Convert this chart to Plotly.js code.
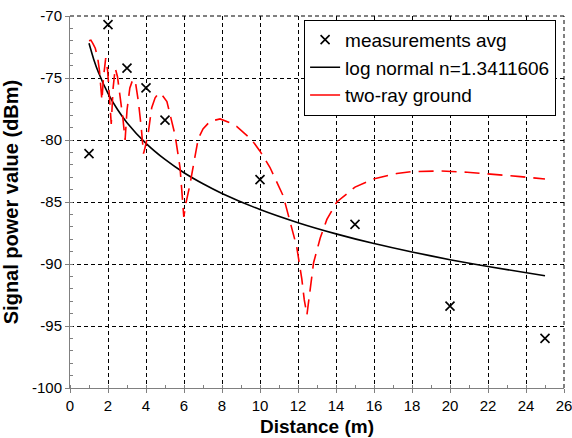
<!DOCTYPE html>
<html>
<head>
<meta charset="utf-8">
<script src="https://cdn.plot.ly/plotly-3.0.1.min.js"></script>
<style>html,body{margin:0;padding:0;background:#fff;}#chart{width:572px;height:438px;}</style>
</head>
<body>
<div id="chart"></div>
<script>
// Measured averages
const measDistance = [1, 2, 3, 4, 5, 10, 15, 20, 25];
const measPower = [-81.1, -70.7, -74.2, -75.8, -78.4, -83.2, -86.8, -93.4, -96.0];

// Log-normal fit
const logDistance = [1, 1.25, 1.5, 2, 2.5, 3, 4, 5, 6, 7, 8, 10, 12, 14, 16, 18, 20, 22, 25];
const logPower = [-72.2, -73.5, -74.56, -76.24, -77.54, -78.6, -80.27, -81.57, -82.64, -83.53, -84.31, -85.61, -86.67, -87.57, -88.35, -89.03, -89.65, -90.2, -90.95];

// Two-ray ground model
const twoRayDistance = [1.0, 1.1, 1.2, 1.33, 1.45, 1.55, 1.68, 1.76, 1.88, 1.98, 2.08, 2.17, 2.27, 2.38, 2.5, 2.65, 2.78, 2.9, 3.0, 3.15, 3.31, 3.46, 3.6, 3.75, 3.87, 4.0, 4.13, 4.3, 4.48, 4.67, 4.86, 5.1, 5.35, 5.53, 5.79, 5.91, 5.99, 6.1, 6.3, 6.5, 6.75, 7.0, 7.37, 7.9, 8.4, 8.77, 9.57, 10.0, 10.52, 11.22, 11.58, 11.93, 12.2, 12.33, 12.47, 12.64, 12.82, 13.17, 13.52, 14.04, 14.57, 15.0, 15.97, 17.2, 18.0, 19.5, 20.9, 22.3, 23.7, 25.0];
const twoRayPower = [-72.0, -71.95, -72.2, -72.6, -73.3, -74.4, -76.8, -75.0, -73.4, -74.4, -76.6, -78.7, -75.8, -74.2, -74.9, -76.5, -78.2, -80.0, -77.6, -75.8, -75.1, -75.5, -76.9, -79.0, -81.1, -80.3, -79.3, -77.4, -76.6, -76.2, -76.4, -76.9, -78.4, -79.6, -82.2, -84.7, -86.2, -85.1, -83.7, -82.0, -79.9, -79.1, -78.5, -78.3, -78.6, -78.9, -80.0, -80.9, -82.2, -84.5, -86.5, -88.6, -91.2, -92.9, -94.1, -92.0, -89.9, -87.9, -86.4, -85.0, -84.3, -83.8, -83.15, -82.7, -82.55, -82.5, -82.6, -82.75, -82.95, -83.15];

const xTicks = [0, 2, 4, 6, 8, 10, 12, 14, 16, 18, 20, 22, 24, 26];
const yTicks = [-100, -95, -90, -85, -80, -75, -70];

const FONT = 'Liberation Sans, Arial, sans-serif';

const traces = [
  {
    x: measDistance, y: measPower, mode: 'markers', name: 'measurements avg',
    marker: {symbol: 'x-thin-open', size: 9, color: '#000', line: {color: '#000', width: 1.6}},
    legendgroup: 'a'
  },
  {
    x: logDistance, y: logPower, mode: 'lines', name: 'log normal n=1.3411606',
    line: {color: '#000', width: 1.6, shape: 'spline', smoothing: 0.6},
    legendgroup: 'b'
  },
  {
    x: twoRayDistance, y: twoRayPower, mode: 'lines', name: 'two-ray ground',
    line: {color: '#ff0000', width: 1.6, dash: '15px,8px'},
    showlegend: false, legendgroup: 'c'
  },
  {
    x: [null], y: [null], mode: 'lines', name: 'two-ray ground',
    line: {color: '#ff0000', width: 1.6}, legendgroup: 'c'
  }
];

const layout = {
  width: 572, height: 438,
  margin: {l: 70, r: 8, t: 16, b: 50},
  paper_bgcolor: '#fff', plot_bgcolor: '#fff',
  font: {family: FONT, color: '#000', size: 15},
  showlegend: true,
  legend: {
    x: 0.984, y: 0.99, xanchor: 'right', yanchor: 'top',
    bgcolor: '#fff', bordercolor: '#000', borderwidth: 1,
    font: {family: FONT, size: 19, color: '#000'},
    traceorder: 'grouped', tracegroupgap: 0
  },
  shapes: [
    {type: 'line', xref: 'paper', yref: 'paper', x0: 0, x1: 1, y0: 1, y1: 1,
     line: {color: '#000', width: 1, dash: '4px,3px'}, layer: 'below'},
    {type: 'line', xref: 'paper', yref: 'paper', x0: 1, x1: 1, y0: 0, y1: 1,
     line: {color: '#000', width: 1, dash: '4px,3px'}, layer: 'below'}
  ],
  xaxis: {
    range: [0, 26], tickvals: xTicks, ticktext: xTicks.map(String),
    showline: true, linecolor: '#808080', linewidth: 1,
    ticks: 'outside', ticklen: 4, tickcolor: '#808080',
    ticklabeloverflow: 'allow',
    minor: {dtick: 1, ticks: 'inside', ticklen: 3, tickcolor: '#808080', showgrid: false},
    showgrid: true, gridcolor: '#000', gridwidth: 1, griddash: '4px,3px',
    zeroline: false,
    tickfont: {family: FONT, size: 15, color: '#000'},
    title: {text: 'Distance (m)', font: {family: FONT, size: 19, color: '#000', weight: 'bold'}, standoff: 6}
  },
  yaxis: {
    range: [-100, -70], tickvals: yTicks, ticktext: yTicks.map(String),
    showline: true, linecolor: '#808080', linewidth: 1,
    ticks: 'outside', ticklen: 4, tickcolor: '#808080',
    ticklabeloverflow: 'allow',
    minor: {dtick: 1, ticks: 'inside', ticklen: 3, tickcolor: '#808080', showgrid: false},
    showgrid: true, gridcolor: '#000', gridwidth: 1, griddash: '4px,3px',
    zeroline: false,
    tickfont: {family: FONT, size: 15, color: '#000'},
    title: {text: 'Signal power value (dBm)', font: {family: FONT, size: 20, color: '#000', weight: 'bold'}, standoff: 8}
  }
};

Plotly.newPlot('chart', traces, layout, {displayModeBar: false, staticPlot: true});
</script>
</body>
</html>
